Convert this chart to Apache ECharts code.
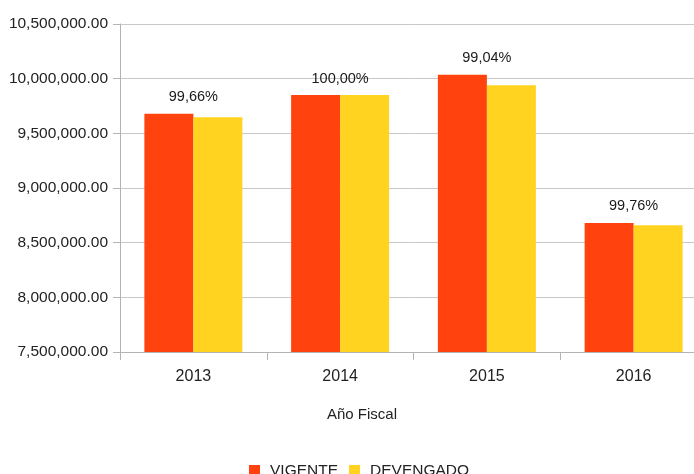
<!DOCTYPE html>
<html>
<head>
<meta charset="utf-8">
<script src="https://cdn.jsdelivr.net/npm/echarts@6/dist/echarts.min.js"></script>
<style>
html,body{margin:0;padding:0;background:#fff;overflow:hidden;width:694px;height:474px;}
#chart{width:714px;height:474px;}
</style>
</head>
<body>
<div id="chart"></div>
<script>
var years = ['2013', '2014', '2015', '2016'];
var vigente = [9680000, 9850000, 10036000, 8680000];
var devengado = [9647000, 9850000, 9940000, 8659000];
var pctLabels = ['99,66%', '100,00%', '99,04%', '99,76%'];
var yTicks = [7500000, 8000000, 8500000, 9000000, 9500000, 10000000, 10500000];

var regular = '"Liberation Sans", Arial, sans-serif';

function fmt(v) {
  var s = Math.round(v).toString().replace(/\B(?=(\d{3})+(?!\d))/g, ',');
  return s + '.00';
}

var labelTops = vigente.map(function (v, i) { return Math.max(v, devengado[i]); });

var chart = echarts.init(document.getElementById('chart'), null, { renderer: 'canvas' });
chart.setOption({
  animation: false,
  backgroundColor: '#ffffff',
  title: {
    text: 'Año Fiscal',
    left: 357,
    top: 402,
    textAlign: 'center',
    textStyle: { fontFamily: regular, fontSize: 15, fontWeight: 'normal', color: '#222' }
  },
  legend: {
    data: ['VIGENTE', 'DEVENGADO'],
    left: 244,
    top: 458,
    icon: 'rect',
    itemWidth: 11,
    itemHeight: 12,
    itemGap: 11,
    textStyle: { fontFamily: regular, fontSize: 15.5, color: '#222', padding: [0, 0, 0, 5] }
  },
  grid: { left: 120, top: 24, height: 328, width: 587, containLabel: false },
  xAxis: {
    type: 'category',
    data: years,
    axisLine: { lineStyle: { color: '#b3b3b3', width: 1 } },
    axisTick: { show: true, alignWithLabel: false, length: 8, lineStyle: { color: '#b3b3b3' } },
    axisLabel: { fontFamily: regular, fontSize: 16, color: '#222', margin: 17 },
    splitLine: { show: false }
  },
  yAxis: {
    type: 'value',
    min: yTicks[0],
    max: yTicks[yTicks.length - 1],
    interval: 500000,
    axisLine: { show: true, lineStyle: { color: '#b3b3b3', width: 1 } },
    axisTick: { show: true, length: 7, lineStyle: { color: '#b3b3b3' } },
    axisLabel: { fontFamily: regular, fontSize: 15.5, color: '#222', margin: 12, formatter: fmt },
    splitLine: { show: true, lineStyle: { color: '#c8c8c8', width: 1 } }
  },
  series: [
    {
      name: 'VIGENTE',
      type: 'bar',
      data: vigente,
      barWidth: 49,
      barGap: '0%',
      itemStyle: { color: '#ff420e' }
    },
    {
      name: 'DEVENGADO',
      type: 'bar',
      data: devengado,
      barWidth: 49,
      itemStyle: { color: '#ffd320' }
    },
    {
      name: 'pct',
      type: 'scatter',
      data: labelTops,
      symbolSize: 0,
      silent: true,
      z: 10,
      itemStyle: { color: '#222', opacity: 1 },
      label: {
        show: true,
        position: 'top',
        distance: 9,
        fontFamily: regular,
        fontSize: 14.5,
        color: '#1a1a1a',
        formatter: function (p) { return pctLabels[p.dataIndex]; }
      }
    }
  ]
});
</script>
</body>
</html>
